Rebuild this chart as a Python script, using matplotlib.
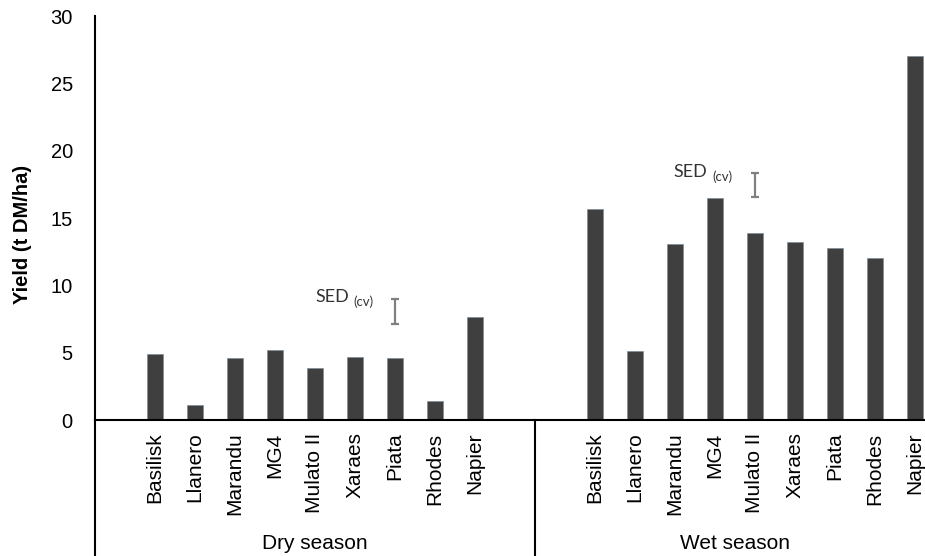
import numpy as np
import matplotlib.pyplot as plt
from matplotlib.transforms import blended_transform_factory

plt.rcParams['font.family'] = ['Liberation Sans', 'DejaVu Sans']

# data
cultivars = ["Basilisk", "Llanero", "Marandu", "MG4", "Mulato II",
             "Xaraes", "Piata", "Rhodes", "Napier"]
seasons = ["Dry season", "Wet season"]
dry_yield = [4.9, 1.1, 4.6, 5.2, 3.85, 4.65, 4.6, 1.4, 7.65]
wet_yield = [15.7, 5.1, 13.05, 16.5, 13.9, 13.2, 12.8, 12.0, 27.0]
sed_dry = (8.08, 0.92)   # centre, half length of the SED bar
sed_wet = (17.43, 0.88)

bar_color = "#3f3f3f"

fig = plt.figure(figsize=(9.25, 5.56), dpi=100)
ax = fig.add_axes([95 / 925, 136 / 556, 1 - 95 / 925, 404 / 556])

n = len(cultivars)
x_dry = np.arange(n) + 1.5
x_wet = np.arange(n) + 12.5

ax.bar(x_dry, dry_yield, width=0.4, color=bar_color, edgecolor="#6f8b99", linewidth=0.4)
ax.bar(x_wet, wet_yield, width=0.4, color=bar_color, edgecolor="#6f8b99", linewidth=0.4)

# SED bars (above Piata in dry season, Mulato II in wet season)
ax.errorbar([x_dry[6]], [sed_dry[0]], yerr=[sed_dry[1]], fmt="none",
            ecolor="#808080", elinewidth=1.6, capsize=3, capthick=1.6)
ax.errorbar([x_wet[4]], [sed_wet[0]], yerr=[sed_wet[1]], fmt="none",
            ecolor="#808080", elinewidth=1.6, capsize=3, capthick=1.6)

sed_font = ['Lato', 'DejaVu Sans']
ax.text(5.5, 8.76, "SED", fontsize=13, color="#333333", family=sed_font)
ax.text(6.45, 8.46, "(cv)", fontsize=9.5, color="#333333", family=sed_font)
ax.text(14.45, 18.04, "SED", fontsize=13, color="#333333", family=sed_font)
ax.text(15.43, 17.74, "(cv)", fontsize=9.5, color="#333333", family=sed_font)

ax.set_xlim(0, 20.75)
ax.set_ylim(0, 30)
ax.set_yticks(np.arange(0, 31, 5))
ax.tick_params(axis="y", length=0, pad=16, labelsize=14.5)
ax.tick_params(axis="x", length=0, pad=9, labelsize=15)
ax.set_xticks(np.concatenate([x_dry, x_wet]))
ax.set_xticklabels(cultivars + cultivars, rotation=90, va="top", ha="center")

for s in ["top", "right"]:
    ax.spines[s].set_visible(False)
for s in ["left", "bottom"]:
    ax.spines[s].set_linewidth(1.5)

ax.set_ylabel("Yield (t DM/ha)", fontsize=14.5, fontweight="bold")
ax.yaxis.set_label_coords(-0.076, 0.46)

# category box lines below the axis
trans = blended_transform_factory(ax.transData, ax.transAxes)
for xv in [0, 11.0]:
    ax.plot([xv, xv], [0, -0.36], color="black", linewidth=1.5,
            transform=trans, clip_on=False)

ax.text(5.5, -0.305, seasons[0], transform=trans, ha="center", va="center", fontsize=15)
ax.text(16.0, -0.305, seasons[1], transform=trans, ha="center", va="center", fontsize=15)

fig.savefig("out.png", dpi=100)
